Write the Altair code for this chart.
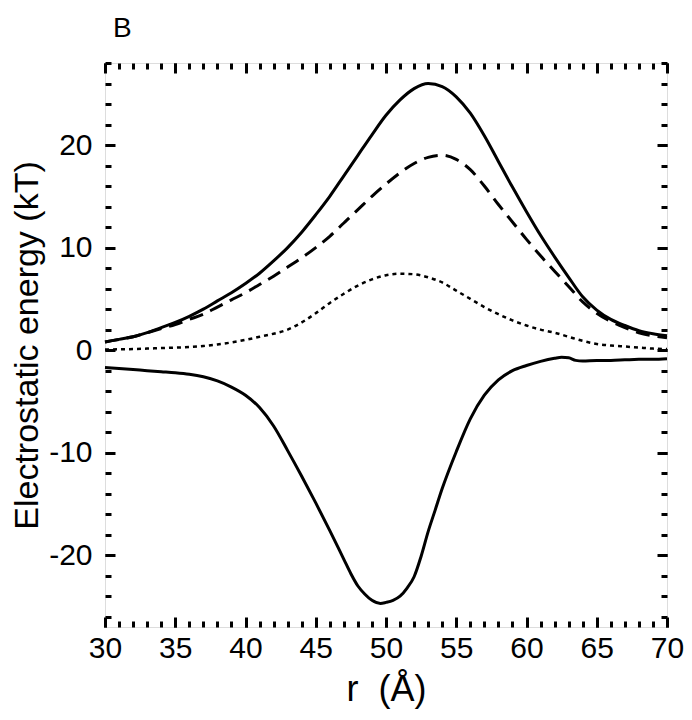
import altair as alt
import pandas as pd

# ---------------- data ----------------
r_grid = [30, 31, 32, 33, 34, 35, 36, 37, 38, 39, 40, 41, 42, 43, 44, 45, 46, 47, 48, 49,
          50, 51, 52, 53, 54, 55, 56, 57, 58, 59, 60, 61, 62, 63, 64, 65, 66, 67, 68, 69, 70]

total_solid = [0.8, 1.05, 1.3, 1.7, 2.2, 2.7, 3.3, 4.0, 4.8, 5.6, 6.5, 7.5, 8.7, 10.0, 11.5,
               13.2, 15.0, 17.0, 19.0, 21.0, 22.9, 24.4, 25.5, 26.0, 25.7, 24.7, 23.1, 20.9,
               18.4, 15.9, 13.5, 11.2, 9.1, 7.1, 5.2, 3.9, 3.0, 2.4, 1.9, 1.6, 1.4]

dashed = [0.8, 1.05, 1.3, 1.7, 2.1, 2.5, 3.0, 3.5, 4.2, 4.9, 5.6, 6.4, 7.2, 8.1, 9.0, 10.0,
          11.1, 12.4, 13.7, 15.0, 16.2, 17.3, 18.2, 18.8, 19.0, 18.6, 17.6, 16.0, 14.2, 12.5,
          10.8, 9.2, 7.7, 6.2, 4.7, 3.6, 2.8, 2.2, 1.7, 1.4, 1.2]

dotted = [0.05, 0.08, 0.1, 0.15, 0.2, 0.25, 0.3, 0.4, 0.55, 0.75, 1.0, 1.3, 1.6, 2.0, 2.7,
          3.6, 4.6, 5.5, 6.3, 6.9, 7.3, 7.45, 7.4, 7.1, 6.6, 5.8, 5.0, 4.2, 3.5, 2.9, 2.4,
          2.0, 1.7, 1.3, 0.9, 0.6, 0.45, 0.35, 0.25, 0.15, 0.1]

r_bottom = [30, 31, 32, 33, 34, 35, 36, 37, 38, 39, 40, 41, 42, 43, 44, 45, 46, 47, 47.5,
            48, 48.5, 49, 49.6, 50, 50.5, 51, 51.5, 52, 52.5, 53, 53.5, 54, 55, 56, 57, 58,
            59, 60, 61, 62, 62.5, 63, 63.5, 64, 65, 66, 67, 68, 69, 70]
bottom_solid = [-1.7, -1.8, -1.9, -2.0, -2.1, -2.2, -2.35, -2.6, -3.0, -3.6, -4.4, -5.6,
                -7.4, -9.8, -12.3, -14.9, -17.6, -20.4, -21.8, -23.0, -23.8, -24.4, -24.7,
                -24.6, -24.4, -24.0, -23.2, -22.1, -20.1, -17.7, -15.6, -13.5, -9.9, -6.7,
                -4.4, -2.9, -2.0, -1.5, -1.1, -0.8, -0.7, -0.75, -1.0, -1.05, -1.0, -1.0,
                -0.95, -0.9, -0.9, -0.85]

x_major = [30, 35, 40, 45, 50, 55, 60, 65, 70]
x_minor = list(range(30, 71))
y_major = [-20, -10, 0, 10, 20]
y_minor = list(range(-26, 29, 2))

X_DOMAIN = [30, 70]
Y_DOMAIN = [-27, 28]

W, H = 562, 564
FONT = "Liberation Sans"


def frame(r, v):
    return pd.DataFrame({"r": r, "v": v})


def tick_axis(values, orient, offset, size):
    return alt.Axis(values=values, orient=orient, offset=offset, tickSize=size,
                    tickWidth=3, tickColor="black", labels=False, domain=False,
                    grid=False, title=None, zindex=2)


def make(df, mark_kwargs, xaxis, yaxis, point=False):
    base = alt.Chart(df)
    m = base.mark_point(opacity=0) if point else base.mark_line(interpolate="monotone", **mark_kwargs)
    return m.encode(
        x=alt.X("r:Q", scale=alt.Scale(domain=X_DOMAIN, nice=False, zero=False), axis=xaxis),
        y=alt.Y("v:Q", scale=alt.Scale(domain=Y_DOMAIN, nice=False, zero=False), axis=yaxis),
    )


label_x = alt.Axis(values=x_major, orient="bottom", ticks=False, domain=False, grid=False,
                   labelFontSize=30, labelFont=FONT, labelColor="black", labelPadding=6,
                   labelFlush=False, labelExpr="'' + datum.value",
                   title="r \u00a0(Å)", titleFontSize=36, titleFont=FONT,
                   titleFontWeight="normal", titleColor="black", titlePadding=9)
label_y = alt.Axis(values=y_major, orient="left", ticks=False, domain=False, grid=False,
                   labelFontSize=30, labelFont=FONT, labelColor="black", labelPadding=13,
                   labelFlush=False, labelExpr="'' + datum.value",
                   title="Electrostatic energy (kT)", titleFontSize=34, titleFont=FONT,
                   titleFontWeight="normal", titleColor="black", titlePadding=4)

l1 = make(frame(r_grid, total_solid), dict(color="black", strokeWidth=3), label_x, label_y)
l2 = make(frame(r_grid, dashed), dict(color="black", strokeWidth=3, strokeDash=[14, 8]),
          tick_axis(x_major, "top", -H, 10), tick_axis(y_major, "right", -W, 10))
l3 = make(frame(r_grid, dotted), dict(color="black", strokeWidth=2.5, strokeDash=[4, 4]),
          tick_axis(x_minor, "top", -H, 6), tick_axis(y_minor, "right", -W, 6))
l4 = make(frame(r_bottom, bottom_solid), dict(color="black", strokeWidth=3),
          tick_axis(x_major, "bottom", -H, 10), tick_axis(y_major, "left", -W, 10))
l5 = make(frame(r_grid, total_solid), {}, tick_axis(x_minor, "bottom", -H, 6),
          tick_axis(y_minor, "left", -W, 6), point=True)

chart = (
    alt.layer(l1, l2, l3, l4, l5)
    .resolve_axis(x="independent", y="independent")
    .properties(
        width=W,
        height=H,
        autosize=alt.AutoSizeParams(type="none"),
        padding={"left": 97, "top": 55, "right": 17, "bottom": 85},
        title=alt.TitleParams("B", anchor="start", frame="group", dx=8, dy=11, offset=8,
                              fontSize=28, font=FONT, fontWeight="normal", color="black",
                              baseline="alphabetic"),
    )
    .configure_view(stroke="black", strokeWidth=3)
    .configure(background="white")
)

chart.save("out.html", embed_options={"renderer": "svg", "actions": False})
